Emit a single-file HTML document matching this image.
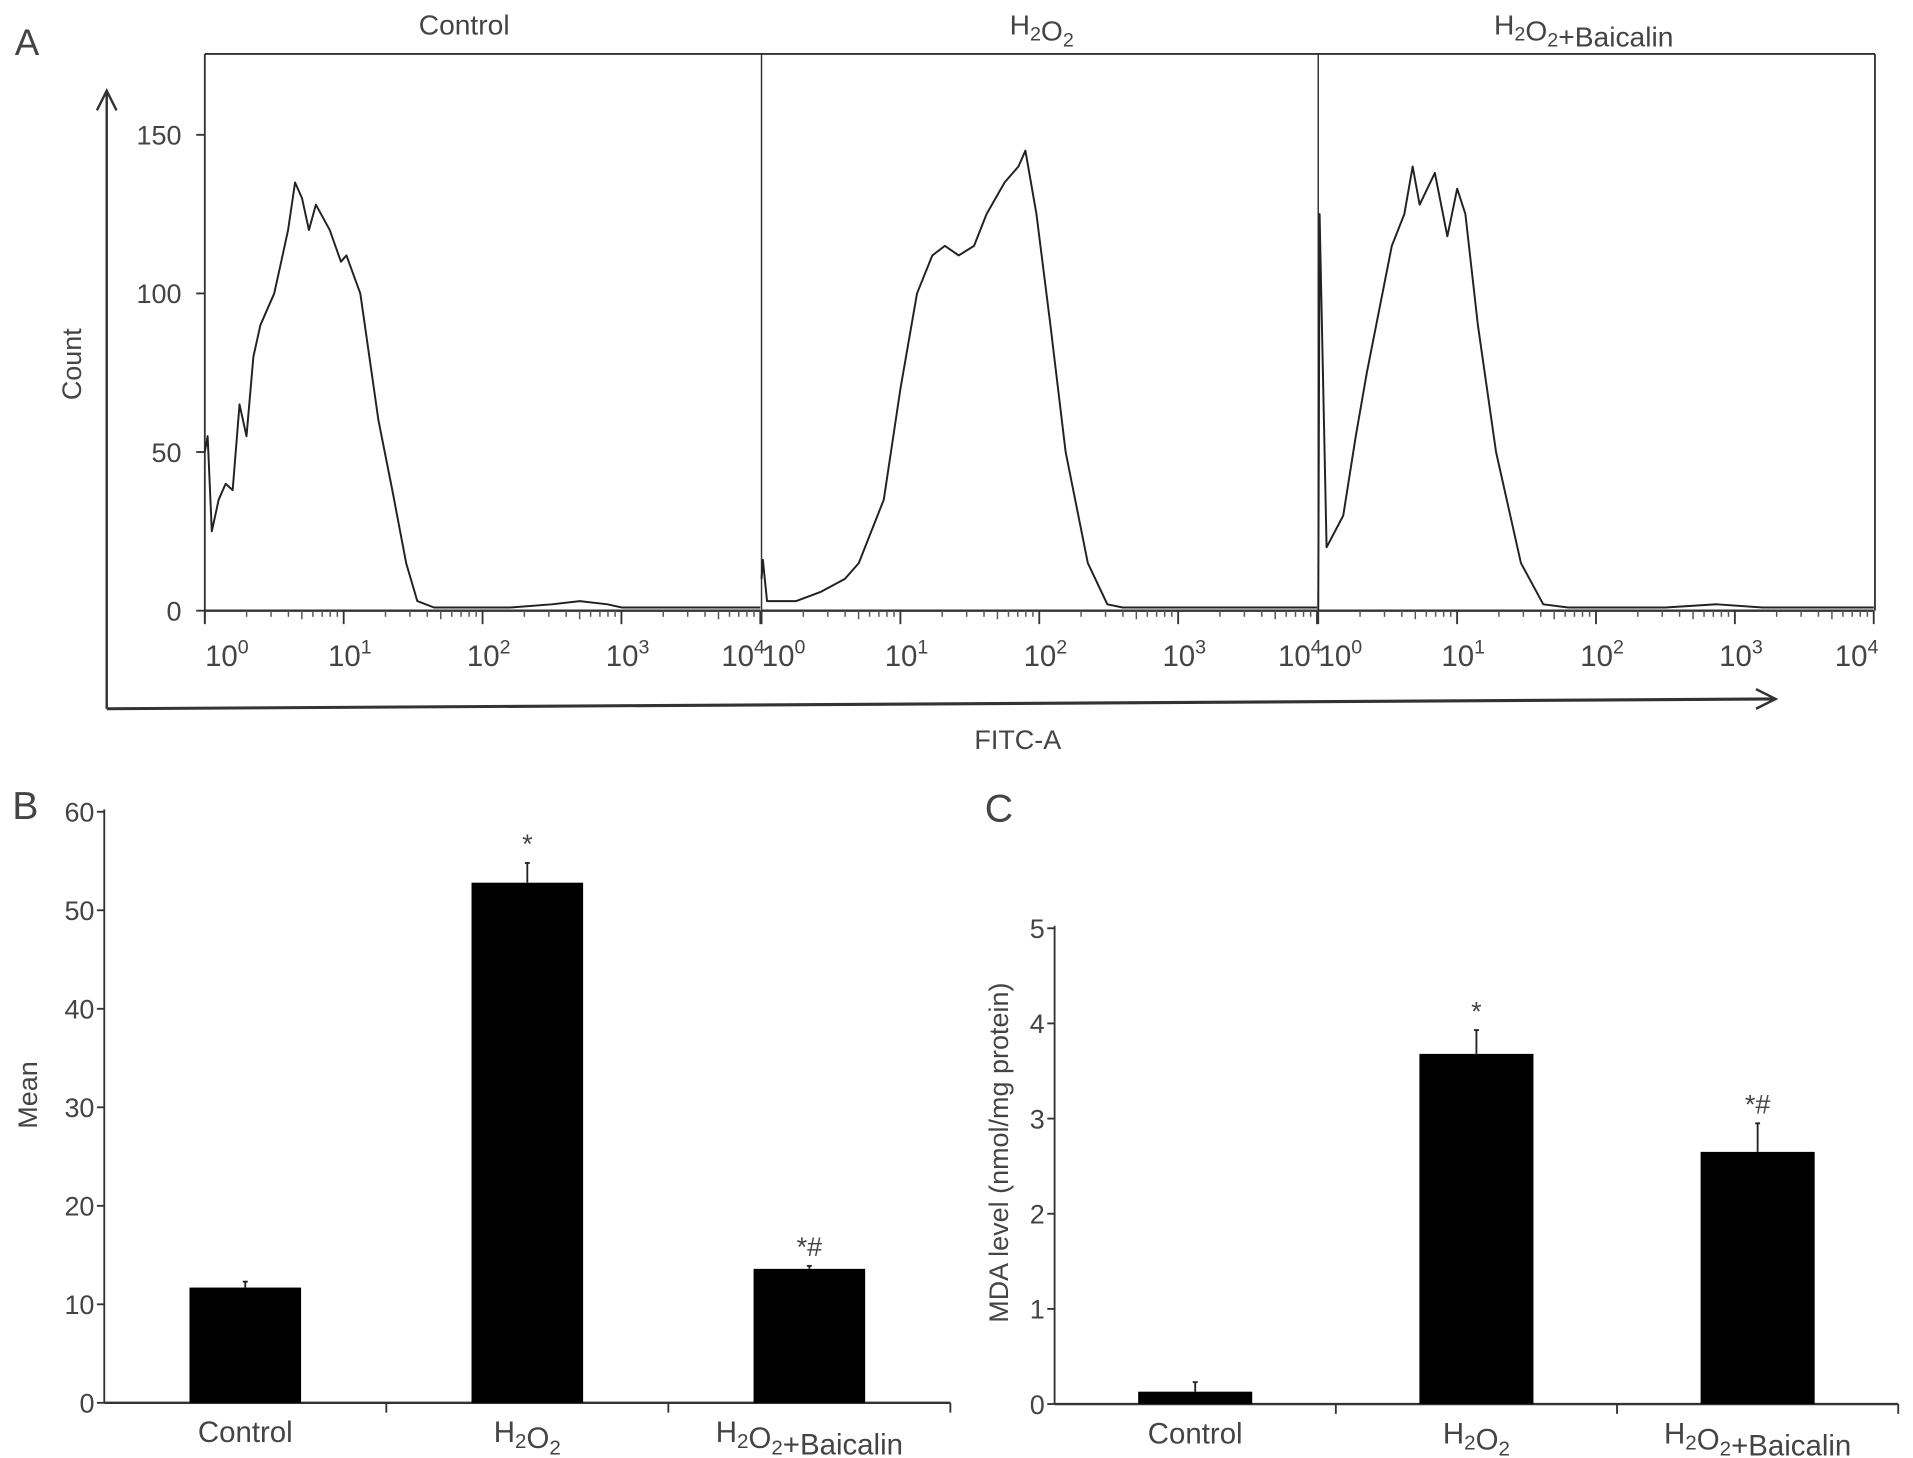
<!DOCTYPE html>
<html><head><meta charset="utf-8"><style>
html,body{margin:0;padding:0;background:#fff;}
svg{display:block;}
text{font-family:"Liberation Sans",sans-serif;fill:#444;}
</style></head><body>
<svg id="fig" width="1913" height="1458" viewBox="0 0 1560 1189" xmlns="http://www.w3.org/2000/svg">
<g id="A"></g>
<g id="B"></g>
<g id="C"></g>
</svg>
<script>
// ---- Panel A data (log10 FITC, count) ----
const histTitles = ["Control", "H2O2", "H2O2+Baicalin"];
const ctrlLog = [0,0.02,0.05,0.1,0.15,0.2,0.25,0.3,0.35,0.4,0.5,0.55,0.6,0.65,0.7,0.75,0.8,0.9,0.98,1.02,1.12,1.25,1.35,1.45,1.53,1.65,2.2,2.5,2.7,2.9,3.0,4];
const ctrlCnt = [50,55,25,35,40,38,65,55,80,90,100,110,120,135,130,120,128,120,110,112,100,60,38,15,3,1,1,2,3,2,1,1];
const h2o2Log = [0,0.01,0.04,0.25,0.43,0.6,0.7,0.88,1.0,1.12,1.23,1.32,1.42,1.53,1.62,1.75,1.85,1.9,1.98,2.08,2.19,2.35,2.49,2.6,4];
const h2o2Cnt = [10,16,3,3,6,10,15,35,70,100,112,115,112,115,125,135,140,145,125,90,50,15,2,1,1];
const baiLog = [0,0.01,0.06,0.18,0.27,0.35,0.44,0.53,0.62,0.68,0.73,0.84,0.93,1.0,1.06,1.15,1.28,1.46,1.62,1.8,2.5,2.87,3.2,4];
const baiCnt = [0,125,20,30,55,75,95,115,125,140,128,138,118,133,125,90,50,15,2,1,1,2,1,1];
const countTicks = [0,50,100,150];
const decadeTicks = [0,1,2,3,4];

// ---- Panel B data ----
const bCats = ["Control","H2O2","H2O2+Baicalin"];
const bVals = [11.7, 52.8, 13.6];
const bErr = [0.6, 2.0, 0.3];
const bMarks = ["", "*", "*#"];
const bTicks = [0,10,20,30,40,50,60];
// ---- Panel C data ----
const cCats = ["Control","H2O2","H2O2+Baicalin"];
const cVals = [0.13, 3.68, 2.65];
const cErr = [0.1, 0.25, 0.3];
const cMarks = ["", "*", "*#"];
const cTicks = [0,1,2,3,4,5];

const NS="http://www.w3.org/2000/svg";
function mk(parent, tag, attrs, txt){const e=document.createElementNS(NS,tag);for(const k in attrs)e.setAttribute(k,attrs[k]);if(txt!==undefined)e.textContent=txt;parent.appendChild(e);return e;}
function chem(parent,x,y,label,size,anchor){
  const t=mk(parent,'text',{x:x,y:y,'font-size':size,'text-anchor':anchor||'middle'});
  const parts=label.split(/(O2|H2)/).filter(s=>s);
  parts.forEach(p=>{
    if(p==="H2"||p==="O2"){mk(t,'tspan',{},p[0]);mk(t,'tspan',{dy:5,'font-size':size*0.7},'2');mk(t,'tspan',{dy:-5},'');}
    else mk(t,'tspan',{},p);
  });
  return t;
}
// ---- Panel A ----
const A=document.getElementById('A');
const x0s=[167,621,1075], pw=453, yBase=498, yTop=44;
const yA=c=>yBase-c*2.587;
const xA=(i,l)=>x0s[i]+l*pw/4;
let e;
e=mk(A,'text',{x:12,y:45,'font-size':30});e.textContent='A';

mk(A,'line',{x1:167,y1:yTop,x2:1529,y2:yTop,stroke:'#333','stroke-width':1.5});
mk(A,'line',{x1:1529,y1:yTop,x2:1529,y2:yBase,stroke:'#333','stroke-width':1.5});
mk(A,'line',{x1:167,y1:yTop,x2:167,y2:yBase+10,stroke:'#333','stroke-width':1.5});
mk(A,'line',{x1:621,y1:yTop,x2:621,y2:yBase+10,stroke:'#333','stroke-width':1.2});
mk(A,'line',{x1:1075,y1:yTop,x2:1075,y2:yBase+10,stroke:'#333','stroke-width':1.2});
countTicks.forEach(c=>{
  e=mk(A,'line',{x1:160,y1:yA(c),x2:167,y2:yA(c),stroke:'#333','stroke-width':1.5});
  e=mk(A,'text',{x:148,y:yA(c)+8,'font-size':22,'text-anchor':'end'},String(c));
  
});
const series=[[ctrlLog,ctrlCnt],[h2o2Log,h2o2Cnt],[baiLog,baiCnt]];
for(let i=0;i<3;i++){
  mk(A,'line',{x1:x0s[i],y1:yBase,x2:x0s[i]+pw,y2:yBase,stroke:'#333','stroke-width':2});
  decadeTicks.forEach(d=>{
    mk(A,'line',{x1:xA(i,d),y1:yBase,x2:xA(i,d),y2:yBase+11,stroke:'#333','stroke-width':1.5});
    const lt=mk(A,'text',{x:xA(i,d)+(d===0?18:(d===4?-14:5)),y:yBase+45,'font-size':24,'text-anchor':'middle'});
    
    mk(lt,'tspan',{},'10');mk(lt,'tspan',{dy:-10,'font-size':16},String(d));
    if(d<4)for(let k=2;k<10;k++){const lx=d+Math.log10(k);mk(A,'line',{x1:xA(i,lx),y1:yBase,x2:xA(i,lx),y2:yBase+(k===5?7:5),stroke:'#555','stroke-width':1.2});}
  });
  const [L,C]=series[i];
  let d='';L.forEach((l,j)=>{d+=(j?'L':'M')+xA(i,l).toFixed(1)+','+yA(C[j]).toFixed(1);});
  e=mk(A,'path',{d:d,fill:'none',stroke:'#222','stroke-width':1.6,'stroke-linejoin':'round'});
  
  e=chem(A,x0s[i]+pw/2-(i===1?-2:0)+(i===2?-10:0)-(i===0?15:0),28,histTitles[i],23);
  
}
mk(A,'line',{x1:87,y1:578,x2:87,y2:76,stroke:'#333','stroke-width':2});
mk(A,'path',{d:'M79,90L87,74L95,90',fill:'none',stroke:'#333','stroke-width':2});
mk(A,'line',{x1:87,y1:578,x2:1447,y2:570,stroke:'#333','stroke-width':2.5});
mk(A,'path',{d:'M1432,562L1448,570L1432,578',fill:'none',stroke:'#333','stroke-width':2});
e=mk(A,'text',{x:0,y:0,'font-size':22,'text-anchor':'middle',transform:'translate(66,297) rotate(-90)'},'Count');

e=mk(A,'text',{x:830,y:611,'font-size':22,'text-anchor':'middle'},'FITC-A');


// ---- bar chart helper ----
function bars(g,cfg){
  const {ax,ay0,ayTop,vmax,xEnd,cats,vals,errs,marks,ticks,barW,label,lx,ly,ytitle,ytx}=cfg;
  const y=v=>ay0-(ay0-ayTop)*v/vmax;
  const step=(xEnd-ax)/3;
  let e=mk(g,'text',{x:lx,y:ly,'font-size':32},label);
  
  mk(g,'line',{x1:ax,y1:ayTop-2,x2:ax,y2:ay0,stroke:'#333','stroke-width':1.5});
  mk(g,'line',{x1:ax,y1:ay0,x2:xEnd,y2:ay0,stroke:'#333','stroke-width':2});
  ticks.forEach(t=>{
    mk(g,'line',{x1:ax-6,y1:y(t),x2:ax,y2:y(t),stroke:'#333','stroke-width':1.5});
    const tl=mk(g,'text',{x:ax-8,y:y(t)+8,'font-size':22,'text-anchor':'end'},String(t));
    
  });
  for(let i=1;i<=3;i++)mk(g,'line',{x1:ax+step*i,y1:ay0,x2:ax+step*i,y2:ay0+8,stroke:'#333','stroke-width':1.5});
  cats.forEach((c,i)=>{
    const cx=ax+step*(i+0.5);
    const r=mk(g,'rect',{x:cx-barW/2,y:y(vals[i]),width:barW,height:ay0-y(vals[i]),fill:'#000'});
    
    const et=y(vals[i]+errs[i]);
    mk(g,'line',{x1:cx,y1:y(vals[i]),x2:cx,y2:et,stroke:'#222','stroke-width':1.5});
    mk(g,'line',{x1:cx-2,y1:et,x2:cx+2,y2:et,stroke:'#222','stroke-width':1.5});
    if(marks[i]){const m=mk(g,'text',{x:cx,y:et-8,'font-size':22,'text-anchor':'middle'},marks[i]);
      }
    const cl=chem(g,cx,ay0+32,c,24);
    
  });
  e=mk(g,'text',{x:0,y:0,'font-size':22,'text-anchor':'middle',transform:'translate('+ytx[0]+','+ytx[1]+') rotate(-90)'},ytitle);
  
}
bars(document.getElementById('B'),{ax:85,ay0:1144,ayTop:662,vmax:60,xEnd:775,cats:bCats,vals:bVals,errs:bErr,marks:bMarks,ticks:bTicks,barW:91,label:'B',lx:10,ly:668,ytitle:'Mean',ytx:[30,893]});
bars(document.getElementById('C'),{ax:860,ay0:1145,ayTop:757,vmax:5,xEnd:1548,cats:cCats,vals:cVals,errs:cErr,marks:cMarks,ticks:cTicks,barW:93,label:'C',lx:803,ly:670,ytitle:'MDA  level (nmol/mg protein)',ytx:[822,940]});
</script>
</body></html>
